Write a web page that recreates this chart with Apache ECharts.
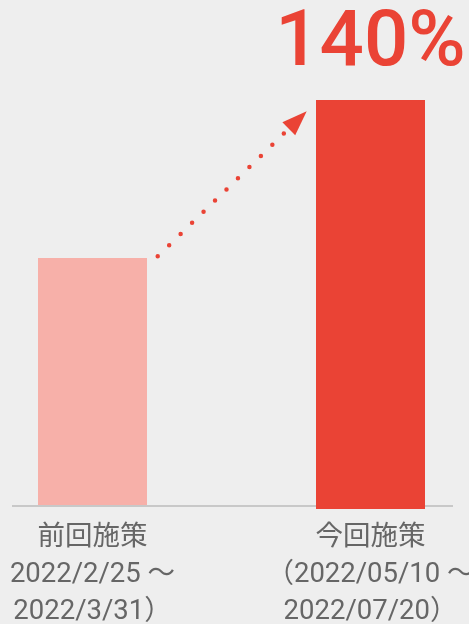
<!DOCTYPE html>
<html>
<head>
<meta charset="utf-8">
<script src="https://cdn.jsdelivr.net/npm/echarts@6/dist/echarts.min.js"></script>
<style>
  html, body { margin: 0; padding: 0; background: #eeeeee; }
  #chart { width: 469px; height: 624px; }
</style>
</head>
<body>
<div id="chart"></div>
<script>
// Campaign periods (category labels under each bar)
const categories = [
  '前回施策\n2022/2/25 ～\n2022/3/31）',
  '今回施策\n（2022/05/10 ～\n2022/07/20）'
];
// Result index: previous campaign = 100
const campaignIndex = [100, 140];
const barColors = ['#f7b0a9', '#ea4335'];

const AXIS_MIN = 37.5;
const BAR_WIDTH = 109;
const RED = '#ea4335';
const growthText = Math.round(campaignIndex[1] / campaignIndex[0] * 100) + '%';

const chart = echarts.init(document.getElementById('chart'), null, { renderer: 'canvas' });

chart.setOption({
  backgroundColor: '#eeeeee',
  animation: false,
  grid: { left: 92.5, right: 98.5, top: 100, bottom: 119, containLabel: false, outerBoundsMode: 'none' },
  xAxis: {
    type: 'category',
    data: categories,
    boundaryGap: false,
    axisLine: { show: false },
    axisTick: { show: false },
    splitLine: { show: false },
    axisLabel: {
      interval: 0,
      color: '#666666',
      fontSize: 27.5,
      lineHeight: 37,
      margin: 15,
      fontFamily: "Roboto, 'Noto Sans CJK JP', sans-serif"
    }
  },
  yAxis: { type: 'value', min: AXIS_MIN, max: 140, show: false, splitLine: { show: false } },
  series: [{
    type: 'custom',
    z: 3,
    data: campaignIndex.map((v, i) => [i, v]),
    renderItem: (params, api) => {
      const i = api.value(0);
      const top = api.coord([i, api.value(1)]);
      const base = api.coord([i, AXIS_MIN]);
      // the highlighted bar overlaps the baseline slightly
      const overhang = i === campaignIndex.length - 1 ? 4 : 0;
      return {
        type: 'rect',
        shape: { x: top[0] - BAR_WIDTH / 2, y: top[1], width: BAR_WIDTH, height: base[1] - top[1] + overhang },
        style: { fill: barColors[i] }
      };
    }
  }]
});

// Baseline, growth arrow and growth label
const prevTop = chart.convertToPixel({ seriesIndex: 0 }, [0, campaignIndex[0]]);
const currTop = chart.convertToPixel({ seriesIndex: 0 }, [1, campaignIndex[1]]);
const baseY = chart.convertToPixel({ seriesIndex: 0 }, [0, AXIS_MIN])[1];

const start = [prevTop[0] + BAR_WIDTH / 2 + 10.7, prevTop[1] - 1.7];
const tip = [currTop[0] - BAR_WIDTH / 2 - 9.3, currTop[1] + 11.3];
const dx = tip[0] - start[0], dy = tip[1] - start[1];
const len = Math.sqrt(dx * dx + dy * dy);
const ux = dx / len, uy = dy / len;
const headLen = 25, headHalf = 9.2, dotGap = 16;
const dotCount = Math.floor((len - headLen + 2) / dotGap);
const lineEnd = [start[0] + ux * dotCount * dotGap, start[1] + uy * dotCount * dotGap];
const headBase = [tip[0] - ux * headLen, tip[1] - uy * headLen];

chart.setOption({
  graphic: [
    {
      type: 'line', z: 1,
      shape: { x1: 12, y1: baseY + 1, x2: 453, y2: baseY + 1 },
      style: { stroke: '#c8c8c8', lineWidth: 2 }
    },
    {
      type: 'line', z: 5,
      shape: { x1: start[0], y1: start[1], x2: lineEnd[0] + ux * 0.5, y2: lineEnd[1] + uy * 0.5 },
      style: { stroke: RED, lineWidth: 4.5, lineDash: [0, dotGap], lineCap: 'round' }
    },
    {
      type: 'polygon', z: 5,
      shape: { points: [
        tip,
        [headBase[0] + uy * headHalf, headBase[1] - ux * headHalf],
        [headBase[0] - uy * headHalf, headBase[1] + ux * headHalf]
      ] },
      style: { fill: RED }
    },
    {
      type: 'text', z: 5,
      x: currTop[0], y: currTop[1] - 55,
      style: {
        text: growthText,
        fill: RED,
        fontSize: 78,
        fontWeight: 500,
        fontFamily: 'Roboto, sans-serif',
        align: 'center',
        verticalAlign: 'middle'
      }
    }
  ]
});
</script>
</body>
</html>
